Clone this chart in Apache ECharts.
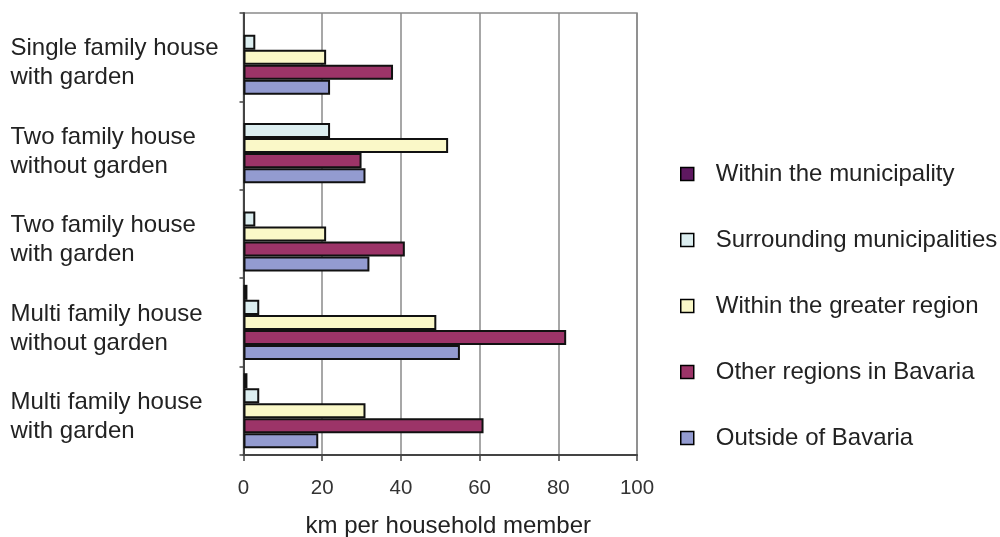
<!DOCTYPE html>
<html>
<head>
<meta charset="utf-8">
<script src="https://cdn.jsdelivr.net/npm/echarts@6/dist/echarts.min.js"></script>
<style>
  html, body { margin: 0; padding: 0; background: #ffffff; }
  #chart { width: 1000px; height: 537px; }
</style>
</head>
<body>
<div id="chart"></div>
<script>
// Housing types, listed top to bottom
const categories = [
  'Single family house\nwith garden',
  'Two family house\nwithout garden',
  'Two family house\nwith garden',
  'Multi family house\nwithout garden',
  'Multi family house\nwith garden'
];

// Destination groups (legend order)
const seriesNames = [
  'Within the municipality',
  'Surrounding municipalities',
  'Within the greater region',
  'Other regions in Bavaria',
  'Outside of Bavaria'
];

// km per household member, per housing type
const withinMunicipality = [0, 0, 0, 1, 1];
const surroundingMunicipalities = [3, 22, 3, 4, 4];
const withinGreaterRegion = [21, 52, 21, 49, 31];
const otherRegionsBavaria = [38, 30, 41, 82, 61];
const outsideBavaria = [22, 31, 32, 55, 19];

const xTicks = [0, 20, 40, 60, 80, 100];

const seriesValues = [
  withinMunicipality,
  surroundingMunicipalities,
  withinGreaterRegion,
  otherRegionsBavaria,
  outsideBavaria
];
const colors = ['#5e1860', '#dceef0', '#faf8c8', '#9c3468', '#939bd0'];

const FONT = '"Liberation Sans", Arial, sans-serif';

const chart = echarts.init(document.getElementById('chart'), null, { renderer: 'canvas' });

// zero-length bars get no outline so they leave no stub on the axis
function toBarData(values) {
  return values.map(v => v === 0 ? { value: v, itemStyle: { borderWidth: 0 } } : v);
}

chart.setOption({
  animation: false,
  backgroundColor: '#ffffff',
  color: colors,
  textStyle: { fontFamily: FONT, color: '#222' },
  grid: {
    left: 243.5,
    top: 13,
    width: 393.5,
    height: 442,
    outerBoundsMode: 'none',
    containLabel: false,
    show: true,
    borderColor: '#8a8a8a',
    borderWidth: 1.5,
    backgroundColor: 'transparent'
  },
  legend: {
    orient: 'vertical',
    left: 675,
    top: 157,
    icon: 'rect',
    itemWidth: 13,
    itemHeight: 13,
    itemGap: 42,
    selectedMode: false,
    itemStyle: { borderColor: '#000', borderWidth: 1.5 },
    textStyle: { fontFamily: FONT, fontSize: 24, color: '#222', padding: [0, 0, 0, 17], lineHeight: 24 },
    data: seriesNames
  },
  xAxis: {
    type: 'value',
    min: xTicks[0],
    max: xTicks[xTicks.length - 1],
    interval: 20,
    name: 'km per household member',
    nameLocation: 'middle',
    nameGap: 59,
    nameTextStyle: { fontFamily: FONT, fontSize: 24, color: '#222', padding: [0, 0, 0, 16] },
    axisLine: { show: true, lineStyle: { color: '#444', width: 2 } },
    axisTick: { show: true, length: 6, lineStyle: { color: '#444', width: 1.5 } },
    axisLabel: { fontFamily: FONT, fontSize: 20.5, color: '#333', margin: 23 },
    splitLine: { show: true, lineStyle: { color: '#8a8a8a', width: 1.5 } }
  },
  yAxis: {
    type: 'category',
    inverse: true,
    data: categories,
    axisLine: { show: true, lineStyle: { color: '#444', width: 2 } },
    axisTick: { show: true, length: 4, lineStyle: { color: '#444', width: 1.5 } },
    axisLabel: {
      interval: 0,
      fontFamily: FONT,
      fontSize: 24,
      lineHeight: 29,
      color: '#222',
      align: 'left',
      margin: 233,
      // a short blank first line nudges each two-line label slightly below its band centre
      formatter: value => '{gap|}\n' + value,
      rich: { gap: { lineHeight: 12, fontSize: 1 } }
    },
    splitLine: { show: false }
  },
  series: seriesNames.map((name, i) => ({
    name: name,
    type: 'bar',
    data: toBarData(seriesValues[i]),
    barGap: '0%',
    barCategoryGap: '15%',
    itemStyle: { color: colors[i], borderColor: '#111', borderWidth: 2 }
  }))
});
</script>
</body>
</html>
